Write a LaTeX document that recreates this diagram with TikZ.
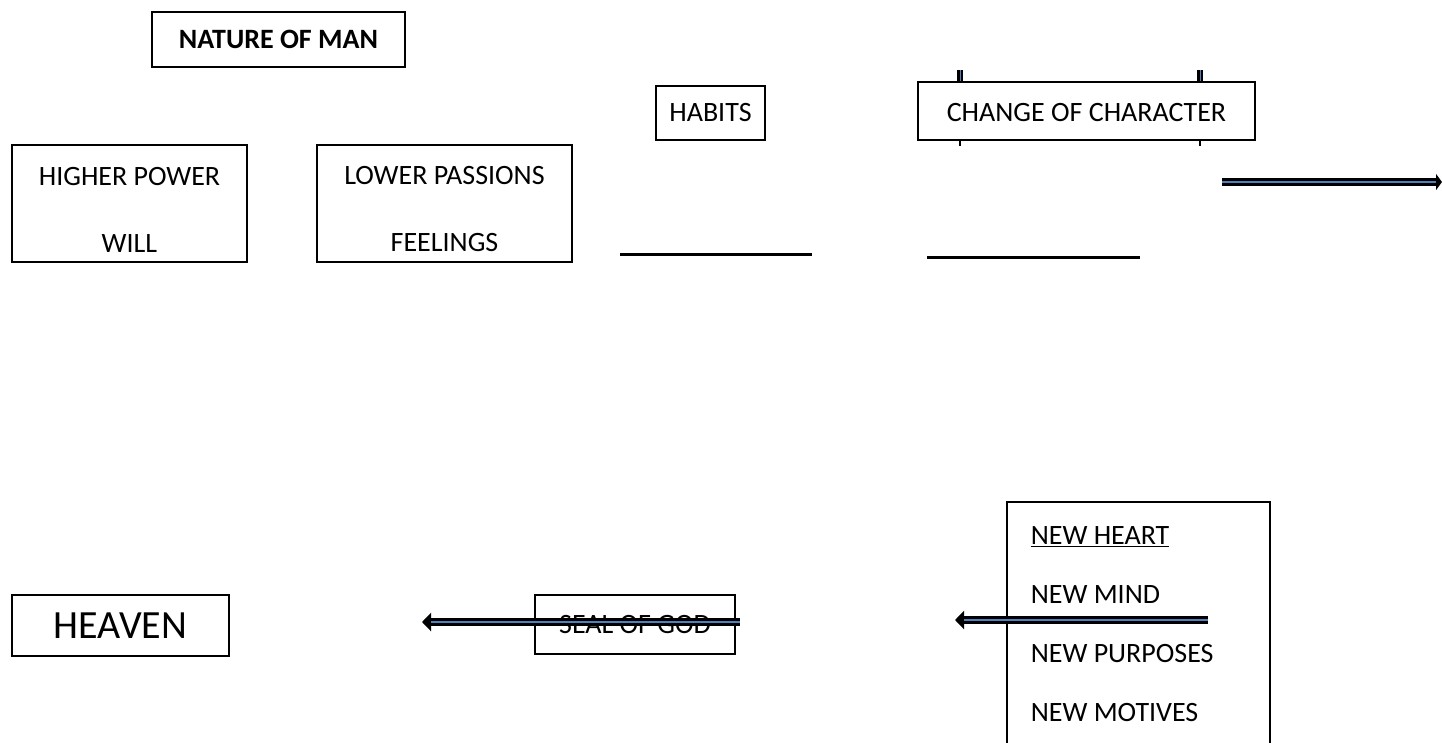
\documentclass[tikz,border=0pt]{standalone}
\usepackage{fontspec}
\setmainfont{Carlito}
\usetikzlibrary{arrows.meta}
\definecolor{wordblue}{RGB}{79,129,189}
\tikzset{
  box/.style={draw, line width=1.5pt, fill=white, inner sep=0pt, align=center,
    font=\fontsize{28}{34}\selectfont},
  outerline/.style={line width=8pt, black},
  innerline/.style={line width=1.2pt, wordblue},
  rule/.style={line width=3pt, black},
}
\begin{document}
\begin{tikzpicture}[x=1pt,y=-1pt]
\useasboundingbox (0,0) rectangle (1442,742);

% marks peeking around CHANGE OF CHARACTER
\coordinate (m1a) at (960,70); \coordinate (m1b) at (960,84);
\coordinate (m2a) at (1200,70); \coordinate (m2b) at (1200,84);
\draw[line width=6pt] (m1a) -- (m1b);
\draw[innerline, line width=1pt] (m1a) -- (m1b);
\draw[line width=6pt] (m2a) -- (m2b);
\draw[innerline, line width=1pt] (m2a) -- (m2b);
\coordinate (t1a) at (960,138); \coordinate (t1b) at (960,146);
\coordinate (t2a) at (1200,138); \coordinate (t2b) at (1200,146);
\draw[line width=1.2pt] (t1a) -- (t1b);
\draw[line width=1.2pt] (t2a) -- (t2b);

\node[box, minimum width=253, minimum height=55, font=\fontsize{28}{34}\selectfont\bfseries] (nature) at (278.5,39.5) {NATURE OF MAN};
\node[box, minimum width=235, minimum height=117, font=\fontsize{28}{67}\selectfont] (higher) at (129.5,203.5) {\rule{0pt}{30pt}HIGHER POWER\\WILL};
\node[box, minimum width=255, minimum height=117, font=\fontsize{28}{67}\selectfont] (lower) at (444.5,203.5) {\rule{0pt}{30pt}LOWER PASSIONS\\FEELINGS};
\node[box, minimum width=109, minimum height=54] (habits) at (710.5,113) {HABITS};
\node[box, minimum width=337, minimum height=58] (change) at (1086.5,111) {\rule{0pt}{22pt}CHANGE OF CHARACTER};

% blank lines
\coordinate (l1a) at (620,254); \coordinate (l1b) at (812,254);
\coordinate (l2a) at (927,257); \coordinate (l2b) at (1140,257);
\draw[rule] (l1a) -- (l1b);
\draw[rule] (l2a) -- (l2b);

% right arrow
\coordinate (ra) at (1222,182); \coordinate (rb) at (1442,182);
\draw[outerline, -{Triangle[length=6pt,width=16pt]}] (ra) -- (rb);
\draw[innerline] (ra) -- ([xshift=-6pt]rb);

\node[box, minimum width=217, minimum height=61, font=\fontsize{40}{48}\selectfont] (heaven) at (120.5,625.5) {HEAVEN};
\node[box, minimum width=200, minimum height=59] (seal) at (635,624.5) {SEAL OF GOD};
\node[box, anchor=north west, text width=215, inner xsep=24pt, minimum height=245, align=flush left, font=\fontsize{28}{59}\selectfont] (new) at (1006,501) {\underline{NEW HEART}\\NEW MIND\\NEW PURPOSES\\NEW MOTIVES};

% left arrows
\coordinate (sa) at (740,622); \coordinate (sb) at (422,622);
\draw[outerline, -{Triangle[length=9pt,width=18pt]}] (sa) -- (sb);
\draw[innerline] (sa) -- ([xshift=9pt]sb);
\coordinate (na) at (1208,620); \coordinate (nb) at (955,620);
\draw[outerline, -{Triangle[length=9pt,width=18pt]}] (na) -- (nb);
\draw[innerline, line width=2.5pt] (na) -- ([xshift=9pt]nb);
\end{tikzpicture}
\end{document}
